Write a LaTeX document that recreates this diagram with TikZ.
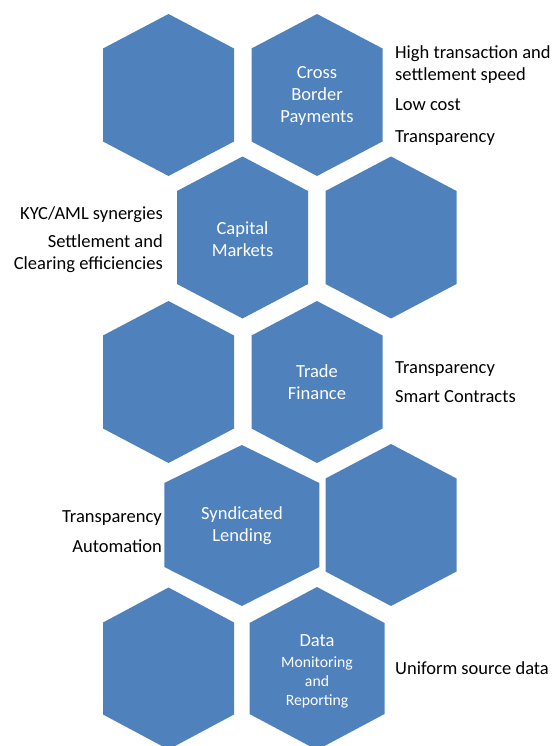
\documentclass[tikz,border=0pt]{standalone}
\usepackage{fontspec}
\setmainfont{Carlito}
\usepackage{xcolor}
\usetikzlibrary{positioning}

\definecolor{hexblue}{RGB}{79,129,189}
\newcommand\hexsmall{\fontsize{15.7}{19}\selectfont}
\tikzset{
  hexcell/.style={fill=hexblue, draw=none},
  hexlabel/.style={text=white, align=center, inner sep=0pt, font=\fontsize{18.5}{22}\selectfont},
  sidelabel/.style={text=black, inner sep=0pt, font=\fontsize{18.5}{22}\selectfont},
}

\begin{document}
\begin{tikzpicture}[x=1pt,y=1pt,yscale=-1]
\useasboundingbox (0,0) rectangle (554,746);

%Shape: Hexagon [row 1, left]
\draw [hexcell, shift={(168.5,95)}] (0,-81) -- (65.5,-46.5) -- (65.5,46.5) -- (0,81) -- (-65.5,46.5) -- (-65.5,-46.5) -- cycle ;
%Shape: Hexagon [row 1, right]
\draw [hexcell, shift={(317,95)}] (0,-81) -- (65.5,-46.5) -- (65.5,46.5) -- (0,81) -- (-65.5,46.5) -- (-65.5,-46.5) -- cycle ;

%Shape: Hexagon [row 2, left]
\draw [hexcell, shift={(242.5,237.5)}] (0,-81) -- (65.5,-46.5) -- (65.5,46.5) -- (0,81) -- (-65.5,46.5) -- (-65.5,-46.5) -- cycle ;
%Shape: Hexagon [row 2, right]
\draw [hexcell, shift={(391,237.5)}] (0,-81) -- (65.5,-46.5) -- (65.5,46.5) -- (0,81) -- (-65.5,46.5) -- (-65.5,-46.5) -- cycle ;

%Shape: Hexagon [row 3, left]
\draw [hexcell, shift={(168.5,382)}] (0,-81) -- (65.5,-46.5) -- (65.5,46.5) -- (0,81) -- (-65.5,46.5) -- (-65.5,-46.5) -- cycle ;
%Shape: Hexagon [row 3, right]
\draw [hexcell, shift={(317,382)}] (0,-81) -- (65.5,-46.5) -- (65.5,46.5) -- (0,81) -- (-65.5,46.5) -- (-65.5,-46.5) -- cycle ;

%Shape: Hexagon [row 4, left, wider]
\draw [hexcell, shift={(241.8,525.5)}] (0,-80.5) -- (77.5,-42.5) -- (77.5,41.5) -- (0,80.5) -- (-77.5,41.5) -- (-77.5,-42.5) -- cycle ;
%Shape: Hexagon [row 4, right]
\draw [hexcell, shift={(391,525)}] (0,-81) -- (65.5,-46.5) -- (65.5,46.5) -- (0,81) -- (-65.5,46.5) -- (-65.5,-46.5) -- cycle ;

%Shape: Hexagon [row 5, left]
\draw [hexcell, shift={(168.5,668.5)}] (0,-81) -- (65.5,-46) -- (65.5,46) -- (0,81) -- (-65.5,46) -- (-65.5,-46) -- cycle ;
%Shape: Hexagon [row 5, right]
\draw [hexcell, shift={(317,668.5)}] (0,-81.5) -- (67.5,-45.5) -- (67.5,45.5) -- (0,81.5) -- (-67.5,45.5) -- (-67.5,-45.5) -- cycle ;

% Text Node
\node (cbp) [hexlabel] at (317,96) {Cross\\Border\\Payments};
% Text Node
\node (cm) [hexlabel] at (242.5,239) {Capital\\Markets};
% Text Node
\node (tf) [hexlabel] at (317,382.5) {Trade\\Finance};
% Text Node
\node (sl) [hexlabel] at (242,526) {Syndicated\\Lending};
% Text Node
\node (dmr) [hexlabel] at (317,671) {Data\\[-1pt]\hexsmall Monitoring\\[-3pt]\hexsmall and\\[-3pt]\hexsmall Reporting};

% Text Node
\node (hts) [sidelabel, anchor=west, align=left] at (395,64.5) {High transaction and\\settlement speed};
% Text Node
\node (lc) [sidelabel, anchor=base west] at (395,111) {Low cost};
% Text Node
\node (tr1) [sidelabel, anchor=base west] at (395,143) {Transparency};
% Text Node
\node (kyc) [sidelabel, anchor=base east] at (163,219.5) {KYC/AML synergies};
% Text Node
\node (sce) [sidelabel, anchor=east, align=right] at (163,253.5) {Settlement and\\Clearing efficiencies};
% Text Node
\node (tr3) [sidelabel, anchor=base west] at (395,373) {Transparency};
% Text Node
\node (sc) [sidelabel, anchor=base west] at (395,402.5) {Smart Contracts};
% Text Node
\node (tr4) [sidelabel, anchor=base east] at (162,522.5) {Transparency};
% Text Node
\node (au) [sidelabel, anchor=base east] at (162,552.5) {Automation};
% Text Node
\node (usd) [sidelabel, anchor=base west] at (395,674.5) {Uniform source data};

\end{tikzpicture}
\end{document}
